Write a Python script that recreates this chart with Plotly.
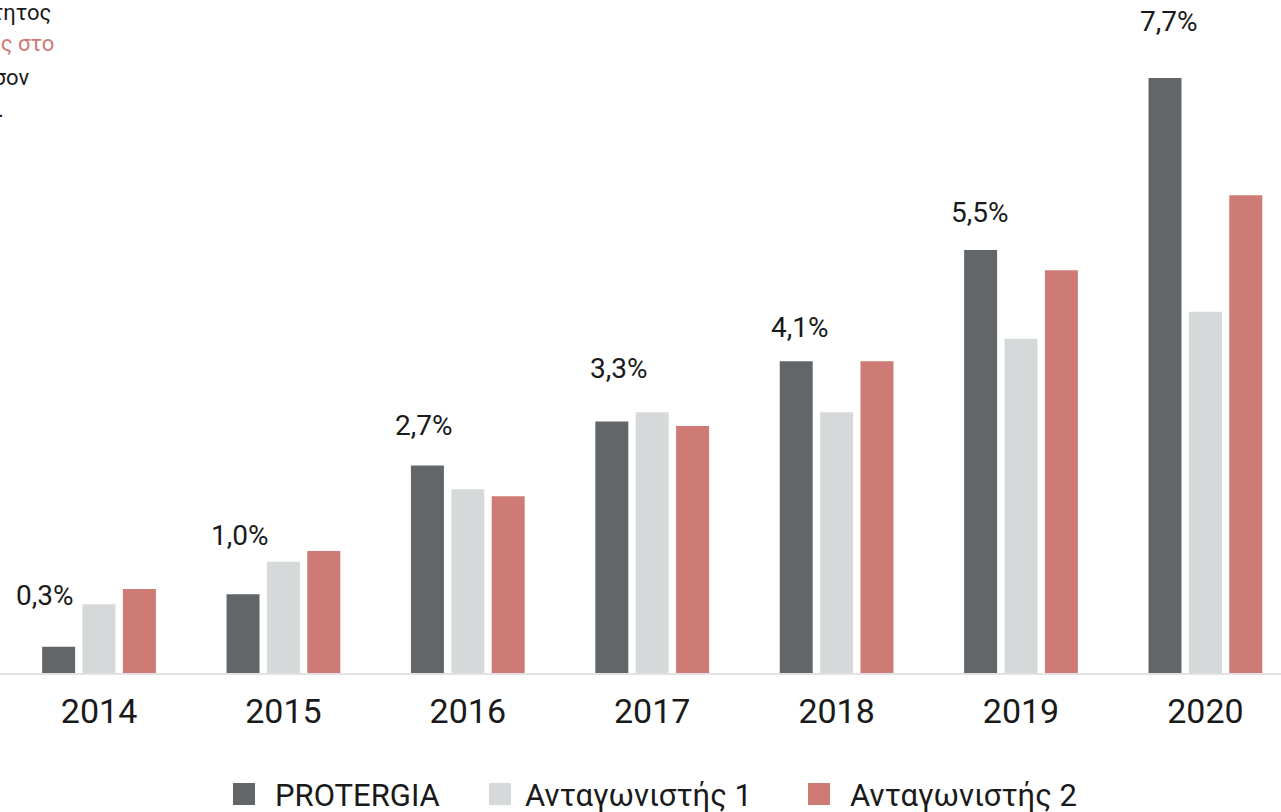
import plotly.graph_objects as go

years = ["2014", "2015", "2016", "2017", "2018", "2019", "2020"]
protergia = [0.34, 1.02, 2.69, 3.26, 4.04, 5.48, 7.71]
antagonistis1 = [0.89, 1.44, 2.38, 3.38, 3.38, 4.33, 4.68]
antagonistis2 = [1.09, 1.58, 2.29, 3.20, 4.04, 5.22, 6.19]
protergia_labels = ["0,3%", "1,0%", "2,7%", "3,3%", "4,1%", "5,5%", "7,7%"]
series_names = ["PROTERGIA", "Ανταγωνιστής 1", "Ανταγωνιστής 2"]

colors = ["#636669", "#d6d9da", "#ce7a75"]
FONT = "Roboto"

W, H = 1281, 812
MB = 139
PH = H - MB  # plot height in px


def px_x(p):
    return p / W


def px_y(p):
    return (PH - p) / PH


fig = go.Figure()
for name, vals, col in zip(series_names, [protergia, antagonistis1, antagonistis2], colors):
    fig.add_trace(go.Bar(x=years, y=vals, name=name, marker_color=col,
                         marker_line_width=0, showlegend=False, hoverinfo="skip"))

# value labels above PROTERGIA bars (pixel nudges)
label_xshift = [-54, -43, -44, -33, -37, -41, -36]
label_yshift = [51, 59, 40, 53, 34, 38, 56]
annotations = []
for i, (v, t, dx, dy) in enumerate(zip(protergia, protergia_labels, label_xshift, label_yshift)):
    annotations.append(dict(xref="x", yref="y", x=i, y=v, text=t, showarrow=False,
                            xanchor="center", yanchor="middle", xshift=dx, yshift=dy,
                            font=dict(family=FONT, size=28, color="#1a1a1a")))

# cropped explanatory text at top-left
note_lines = [("ταχύτητος", "#1a1a1a", 53, 12),
              ("αύξησης στο", "#ce7a75", 56, 43),
              ("όσον", "#1a1a1a", 31, 77),
              ("σημείο.", "#1a1a1a", 6, 110)]
for txt, col, rx, cy in note_lines:
    annotations.append(dict(xref="paper", yref="paper", x=px_x(rx), y=px_y(cy),
                            text=txt, showarrow=False, xanchor="right", yanchor="middle",
                            font=dict(family=FONT, size=22, color=col)))

# manual legend
legend_sq_x = [233, 489, 808]
legend_txt_x = [273, 523, 848]
shapes = []
for name, col, sx, tx in zip(series_names, colors, legend_sq_x, legend_txt_x):
    shapes.append(dict(type="rect", xref="paper", yref="paper",
                       x0=px_x(sx), x1=px_x(sx + 22), y0=px_y(805), y1=px_y(783),
                       fillcolor=col, line=dict(width=0)))
    annotations.append(dict(xref="paper", yref="paper", x=px_x(tx), y=px_y(795),
                            text=name, showarrow=False, xanchor="left", yanchor="middle",
                            font=dict(family=FONT, size=31, color="#1a1a1a")))

fig.update_layout(
    width=W, height=H,
    margin=dict(l=0, r=0, t=0, b=MB, pad=0),
    paper_bgcolor="white", plot_bgcolor="white",
    barmode="group", bargap=0.343, bargroupgap=0.183,
    annotations=annotations, shapes=shapes,
    showlegend=False,
    xaxis=dict(type="category", range=[-0.537, 6.410], showline=True,
               linecolor="#e2e2e2", linewidth=2, ticks="", showgrid=False,
               zeroline=False, automargin=False, ticklabelstandoff=7,
               tickfont=dict(family=FONT, size=34, color="#1a1a1a")),
    yaxis=dict(range=[0, 8.72], visible=False, showgrid=False, zeroline=False),
)

fig.write_html("out.html", config={"displayModeBar": False},
               post_script="document.body.style.margin='0';document.body.style.overflow='hidden';")
